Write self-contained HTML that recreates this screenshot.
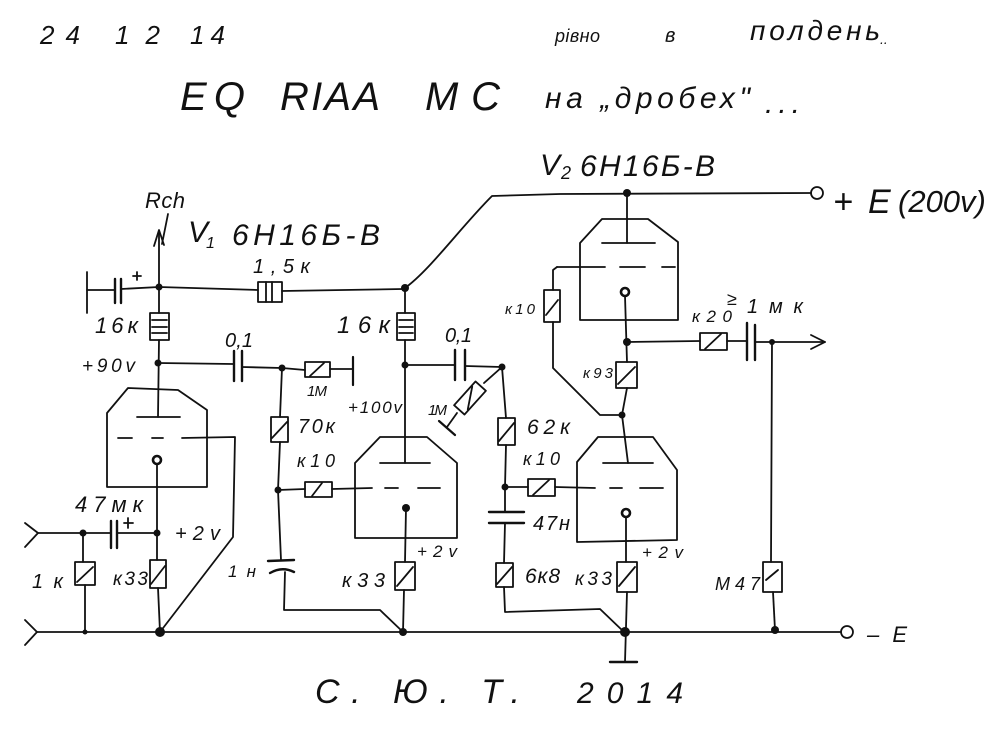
<!DOCTYPE html>
<html><head><meta charset="utf-8"><style>
html,body{margin:0;padding:0;background:#fff;}
svg{display:block;}
text{font-family:"Liberation Sans","DejaVu Sans",sans-serif;font-style:italic;fill:#111;}
</style></head><body>
<svg width="1000" height="733" viewBox="0 0 1000 733" xmlns="http://www.w3.org/2000/svg">
<rect width="1000" height="733" fill="#fff"/>
<g stroke="#111" stroke-width="1.8" fill="none" stroke-linecap="round" stroke-linejoin="round">
<line x1="87" y1="272" x2="87" y2="313"/>
<line x1="87" y1="290" x2="114" y2="290"/>
<line x1="115" y1="279" x2="115" y2="303" stroke-width="2.4"/>
<line x1="121" y1="279" x2="121" y2="303" stroke-width="2.4"/>
<line x1="121" y1="289" x2="159" y2="287"/>
<line x1="133" y1="276" x2="141" y2="276"/><line x1="137" y1="272" x2="137" y2="280"/>
<line x1="159" y1="287" x2="159" y2="231"/>
<polyline points="154,246 159,230 164,245"/>
<line x1="168" y1="214" x2="162" y2="244"/>
<line x1="159" y1="287" x2="258" y2="290"/>
<rect x="258" y="282" width="24" height="20"/>
<line x1="266" y1="282" x2="266" y2="302"/><line x1="272" y1="282" x2="272" y2="302"/>
<line x1="282" y1="291" x2="403" y2="289"/>
<path d="M405,288 C430,270 460,228 492,196 L560,194 L811,193"/>
<circle cx="817" cy="193" r="6"/>
<line x1="159" y1="287" x2="159" y2="313"/>
<rect x="150" y="313" width="19" height="27"/>
<line x1="152" y1="320" x2="167" y2="320"/><line x1="152" y1="327" x2="167" y2="327"/><line x1="152" y1="333" x2="167" y2="333"/>
<line x1="159" y1="340" x2="158" y2="417"/>
<line x1="158" y1="363" x2="233" y2="364"/>
<line x1="234" y1="351" x2="234" y2="381" stroke-width="2.4"/>
<line x1="242" y1="351" x2="242" y2="381" stroke-width="2.4"/>
<line x1="242" y1="367" x2="282" y2="368"/>
<line x1="282" y1="368" x2="305" y2="370"/>
<rect x="305" y="362" width="25" height="15"/><line x1="310" y1="376" x2="324" y2="363"/>
<line x1="330" y1="369" x2="353" y2="369"/>
<line x1="353" y1="357" x2="353" y2="385" stroke-width="2.2"/>
<polygon points="107,487 107,413 128,388 178,390 207,410 207,487"/>
<line x1="137" y1="417" x2="180" y2="417"/>
<line x1="118" y1="438" x2="132" y2="438"/><line x1="152" y1="438" x2="163" y2="438"/>
<polyline points="182,438 235,437 233,537 160,632"/>
<circle cx="157" cy="460" r="4" stroke-width="2.6"/>
<line x1="157" y1="464" x2="157" y2="560"/>
<rect x="150" y="560" width="16" height="28"/><line x1="151" y1="584" x2="165" y2="566"/>
<line x1="158" y1="588" x2="160" y2="632"/>
<polyline points="25,523 38,533 25,547"/>
<line x1="38" y1="533" x2="111" y2="533"/>
<line x1="111" y1="521" x2="111" y2="548" stroke-width="2.4"/>
<line x1="117" y1="521" x2="117" y2="548" stroke-width="2.4"/>
<line x1="117" y1="533" x2="157" y2="533"/>
<line x1="124" y1="523" x2="133" y2="523"/><line x1="128" y1="518" x2="128" y2="528"/>
<line x1="83" y1="533" x2="83" y2="562"/>
<rect x="75" y="562" width="20" height="23"/><line x1="77" y1="582" x2="93" y2="567"/>
<line x1="85" y1="585" x2="85" y2="632"/>
<polyline points="25,620 37,632 25,645"/>
<line x1="37" y1="632" x2="841" y2="632"/>
<circle cx="847" cy="632" r="6"/>
<line x1="405" y1="288" x2="405" y2="313"/>
<rect x="397" y="313" width="18" height="27"/>
<line x1="399" y1="320" x2="413" y2="320"/><line x1="399" y1="327" x2="413" y2="327"/><line x1="399" y1="333" x2="413" y2="333"/>
<line x1="405" y1="340" x2="405" y2="463"/>
<line x1="405" y1="365" x2="455" y2="365"/>
<line x1="455" y1="350" x2="455" y2="380" stroke-width="2.4"/>
<line x1="465" y1="350" x2="465" y2="380" stroke-width="2.4"/>
<line x1="465" y1="366" x2="502" y2="367"/>
<line x1="502" y1="367" x2="484" y2="383"/>
<g transform="translate(470,398) rotate(-48)"><rect x="-16" y="-7" width="32" height="14"/><line x1="-10" y1="6" x2="10" y2="-6"/></g>
<line x1="457" y1="413" x2="447" y2="427"/>
<line x1="439" y1="421" x2="455" y2="435" stroke-width="2.2"/>
<line x1="502" y1="367" x2="506" y2="418"/>
<rect x="498" y="418" width="17" height="27"/><line x1="499" y1="441" x2="514" y2="423"/>
<line x1="506" y1="445" x2="505" y2="487"/>
<line x1="505" y1="487" x2="528" y2="487"/>
<rect x="528" y="479" width="27" height="17"/><line x1="533" y1="495" x2="549" y2="480"/>
<line x1="555" y1="487" x2="595" y2="488"/>
<line x1="505" y1="487" x2="505" y2="512"/>
<line x1="489" y1="512" x2="524" y2="512" stroke-width="2.4"/>
<line x1="489" y1="523" x2="524" y2="523" stroke-width="2.4"/>
<line x1="505" y1="523" x2="504" y2="563"/>
<rect x="496" y="563" width="17" height="24"/><line x1="497" y1="584" x2="512" y2="567"/>
<polyline points="504,587 505,612 600,609 624,632"/>
<polygon points="355,538 355,463 380,437 427,437 457,463 457,538"/>
<line x1="380" y1="463" x2="430" y2="463"/>
<line x1="385" y1="488" x2="398" y2="488"/><line x1="418" y1="488" x2="440" y2="488"/>
<line x1="406" y1="508" x2="405" y2="562"/>
<rect x="395" y="562" width="20" height="28"/><line x1="397" y1="586" x2="413" y2="567"/>
<line x1="404" y1="590" x2="403" y2="632"/>
<line x1="282" y1="368" x2="280" y2="417"/>
<rect x="271" y="417" width="17" height="25"/><line x1="272" y1="438" x2="287" y2="422"/>
<line x1="280" y1="442" x2="278" y2="490"/>
<line x1="278" y1="490" x2="305" y2="489"/>
<rect x="305" y="482" width="27" height="15"/><line x1="312" y1="496" x2="322" y2="483"/>
<line x1="332" y1="489" x2="372" y2="488"/>
<line x1="278" y1="490" x2="281" y2="560"/>
<line x1="268" y1="561" x2="294" y2="560" stroke-width="2.4"/>
<path d="M270,573 Q282,566 294,572" stroke-width="2.4"/>
<polyline points="285,572 284,610 380,610 403,632"/>
<polygon points="580,320 580,243 602,219 648,219 678,242 678,320"/>
<line x1="627" y1="193" x2="627" y2="243"/>
<line x1="602" y1="243" x2="655" y2="243"/>
<line x1="557" y1="267" x2="605" y2="267"/><line x1="620" y1="267" x2="645" y2="267"/><line x1="662" y1="267" x2="675" y2="267"/>
<polyline points="557,267 553,270 553,290"/>
<rect x="544" y="290" width="16" height="32"/><line x1="546" y1="315" x2="558" y2="300"/>
<polyline points="553,322 553,368 600,415 622,415"/>
<circle cx="625" cy="292" r="4" stroke-width="2.6"/>
<line x1="625" y1="296" x2="627" y2="362"/>
<line x1="627" y1="342" x2="700" y2="341"/>
<rect x="700" y="333" width="27" height="17"/><line x1="705" y1="349" x2="721" y2="334"/>
<line x1="727" y1="341" x2="747" y2="341"/>
<line x1="747" y1="323" x2="747" y2="360" stroke-width="2.4"/>
<line x1="755" y1="325" x2="755" y2="360" stroke-width="2.4"/>
<line x1="755" y1="342" x2="825" y2="342"/>
<polyline points="811,335 825,342 811,349"/>
<rect x="616" y="362" width="21" height="26"/><line x1="618" y1="384" x2="635" y2="367"/>
<line x1="627" y1="388" x2="622" y2="415"/>
<line x1="772" y1="342" x2="771" y2="562"/>
<rect x="763" y="562" width="19" height="30"/><line x1="766" y1="580" x2="778" y2="570"/>
<line x1="773" y1="592" x2="775" y2="630"/>
<polygon points="577,542 577,462 598,437 653,437 677,470 677,540"/>
<line x1="622" y1="415" x2="628" y2="463"/>
<line x1="603" y1="463" x2="653" y2="463"/>
<line x1="610" y1="488" x2="622" y2="488"/><line x1="640" y1="488" x2="663" y2="488"/>
<circle cx="626" cy="513" r="4" stroke-width="2.6"/>
<line x1="626" y1="517" x2="626" y2="562"/>
<rect x="617" y="562" width="20" height="30"/><line x1="619" y1="586" x2="635" y2="567"/>
<line x1="627" y1="592" x2="625" y2="662"/>
<line x1="610" y1="662" x2="637" y2="662" stroke-width="2.4"/>
</g>
<g fill="#111">
<circle cx="159" cy="287" r="3.5"/><circle cx="405" cy="288" r="4"/><circle cx="627" cy="193" r="4"/>
<circle cx="158" cy="363" r="3.5"/><circle cx="282" cy="368" r="3.5"/><circle cx="157" cy="533" r="3.5"/>
<circle cx="83" cy="533" r="3.5"/><circle cx="85" cy="632" r="2.5"/><circle cx="160" cy="632" r="5"/>
<circle cx="405" cy="365" r="3.5"/><circle cx="502" cy="367" r="3.5"/><circle cx="505" cy="487" r="3.5"/>
<circle cx="278" cy="490" r="3.5"/><circle cx="406" cy="508" r="4"/><circle cx="403" cy="632" r="4"/>
<circle cx="627" cy="342" r="4"/><circle cx="622" cy="415" r="3.5"/><circle cx="772" cy="342" r="3"/>
<circle cx="625" cy="632" r="5"/><circle cx="775" cy="630" r="4"/>
</g>
<g>
<text x="40" y="44" font-size="26" textLength="40" lengthAdjust="spacing">24</text>
<text x="115" y="44" font-size="26" textLength="45" lengthAdjust="spacing">12</text>
<text x="190" y="44" font-size="26" textLength="35" lengthAdjust="spacing">14</text>
<text x="555" y="42" font-size="18" textLength="45" lengthAdjust="spacing">рівно</text>
<text x="665" y="42" font-size="20">в</text>
<text x="750" y="40" font-size="28" textLength="130" lengthAdjust="spacing">полдень</text>
<text x="880" y="44" font-size="14">..</text>
<text x="180" y="110" font-size="40" textLength="65" lengthAdjust="spacing">EQ</text>
<text x="280" y="110" font-size="40" textLength="100" lengthAdjust="spacing">RIAA</text>
<text x="425" y="110" font-size="40" textLength="75" lengthAdjust="spacing">MC</text>
<text x="545" y="108" font-size="30" textLength="205" lengthAdjust="spacing">на „дробех"</text>
<text x="765" y="113" font-size="30" textLength="35" lengthAdjust="spacing">...</text>
<text x="540" y="175" font-size="30">V</text>
<text x="561" y="179" font-size="18">2</text>
<text x="580" y="176" font-size="30" textLength="135" lengthAdjust="spacing">6H16Б-В</text>
<text x="833" y="213" font-size="34">+</text>
<text x="868" y="213" font-size="34">E</text>
<text x="898" y="212" font-size="31">(200v)</text>
<text x="145" y="208" font-size="22" textLength="40" lengthAdjust="spacing">Rch</text>
<text x="188" y="242" font-size="30">V</text>
<text x="206" y="248" font-size="16">1</text>
<text x="232" y="245" font-size="30" textLength="148" lengthAdjust="spacing">6H16Б-В</text>
<text x="253" y="273" font-size="20" textLength="57" lengthAdjust="spacing">1,5к</text>
<text x="95" y="333" font-size="22" textLength="43" lengthAdjust="spacing">16к</text>
<text x="82" y="372" font-size="19" textLength="53" lengthAdjust="spacing">+90v</text>
<text x="225" y="347" font-size="20" textLength="28" lengthAdjust="spacing">0,1</text>
<text x="307" y="396" font-size="15" textLength="20" lengthAdjust="spacing">1M</text>
<text x="337" y="333" font-size="24" textLength="53" lengthAdjust="spacing">16к</text>
<text x="348" y="413" font-size="17" textLength="54" lengthAdjust="spacing">+100v</text>
<text x="445" y="342" font-size="20" textLength="27" lengthAdjust="spacing">0,1</text>
<text x="428" y="415" font-size="15" textLength="19" lengthAdjust="spacing">1M</text>
<text x="527" y="434" font-size="21" textLength="43" lengthAdjust="spacing">62к</text>
<text x="298" y="433" font-size="20" textLength="37" lengthAdjust="spacing">70к</text>
<text x="297" y="467" font-size="18" textLength="38" lengthAdjust="spacing">к10</text>
<text x="523" y="465" font-size="18" textLength="37" lengthAdjust="spacing">к10</text>
<text x="75" y="512" font-size="22" textLength="68" lengthAdjust="spacing">47мк</text>
<text x="175" y="540" font-size="20" textLength="45" lengthAdjust="spacing">+2v</text>
<text x="533" y="530" font-size="20" textLength="37" lengthAdjust="spacing">47н</text>
<text x="32" y="588" font-size="20" textLength="31" lengthAdjust="spacing">1к</text>
<text x="113" y="585" font-size="19" textLength="35" lengthAdjust="spacing">к33</text>
<text x="228" y="577" font-size="17" textLength="28" lengthAdjust="spacing">1н</text>
<text x="342" y="587" font-size="20" textLength="43" lengthAdjust="spacing">к33</text>
<text x="417" y="557" font-size="17" textLength="40" lengthAdjust="spacing">+2v</text>
<text x="525" y="583" font-size="21" textLength="35" lengthAdjust="spacing">6к8</text>
<text x="575" y="585" font-size="19" textLength="37" lengthAdjust="spacing">к33</text>
<text x="642" y="558" font-size="17" textLength="41" lengthAdjust="spacing">+2v</text>
<text x="715" y="590" font-size="18" textLength="45" lengthAdjust="spacing">M47</text>
<text x="505" y="314" font-size="15" textLength="30" lengthAdjust="spacing">к10</text>
<text x="583" y="378" font-size="15" textLength="30" lengthAdjust="spacing">к93</text>
<text x="692" y="322" font-size="17" textLength="40" lengthAdjust="spacing">к20</text>
<text x="727" y="305" font-size="18">≥</text>
<text x="747" y="313" font-size="20" textLength="56" lengthAdjust="spacing">1мк</text>
<text x="867" y="642" font-size="22" textLength="40" lengthAdjust="spacing">– E</text>
<text x="315" y="703" font-size="34" textLength="205" lengthAdjust="spacing">С. Ю. Т.</text>
<text x="577" y="703" font-size="30" textLength="106" lengthAdjust="spacing">2014</text>
</g>
</svg>
</body></html>
